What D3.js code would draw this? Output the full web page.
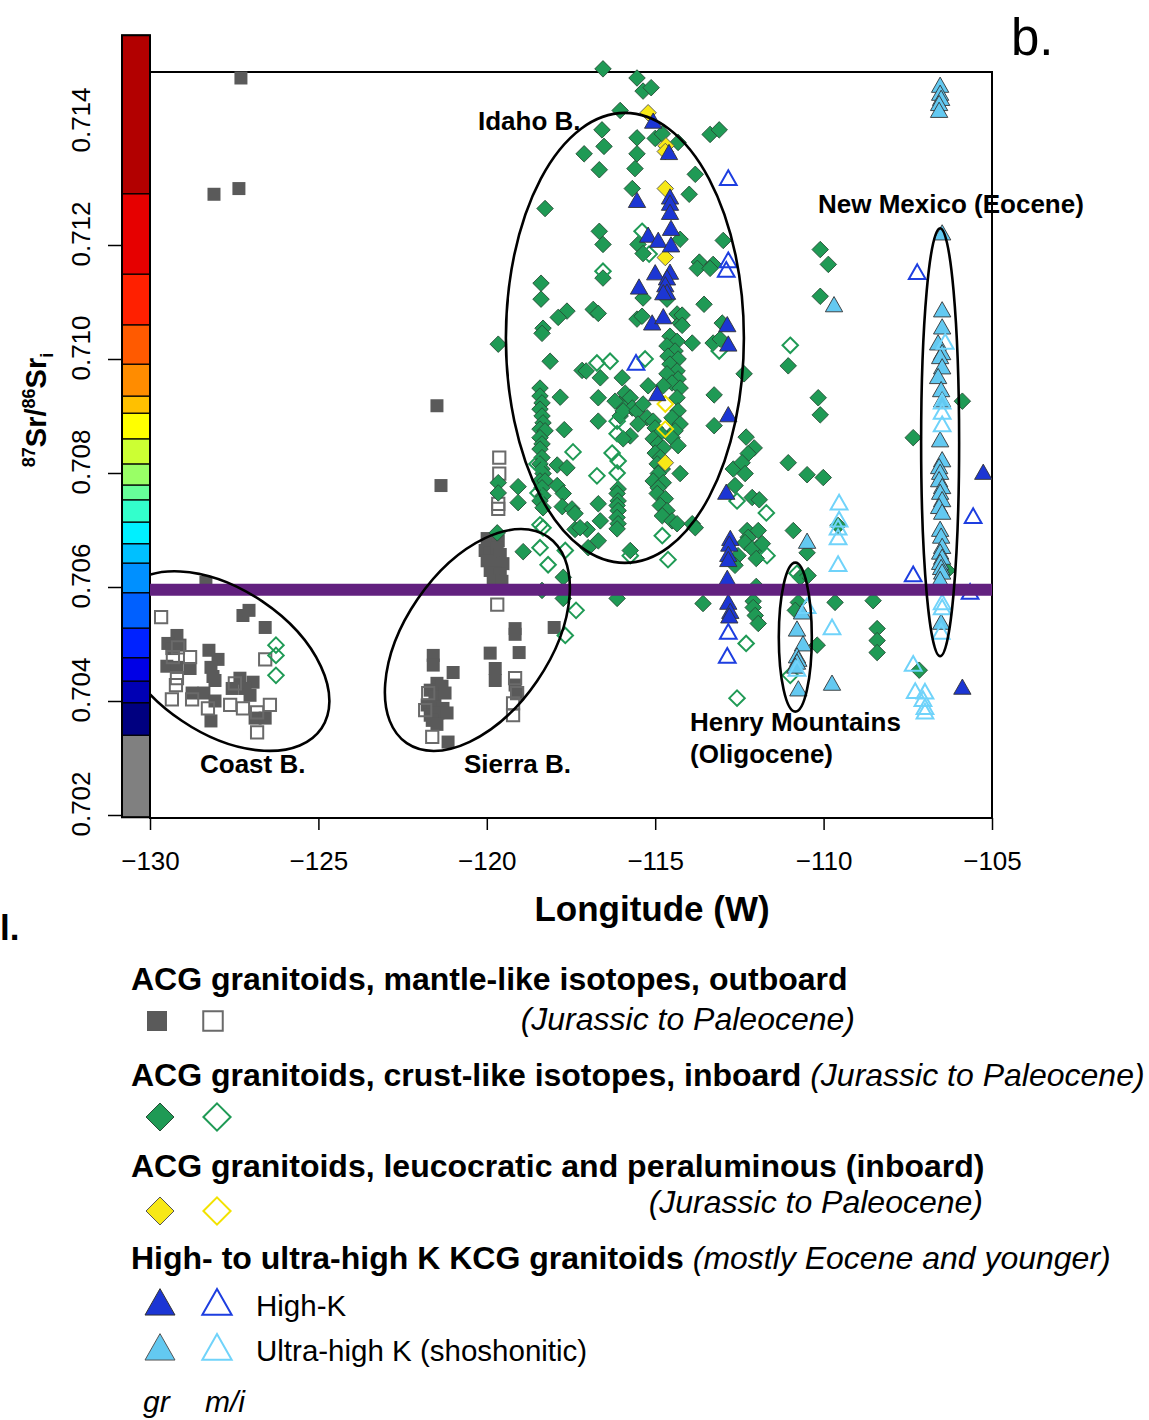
<!DOCTYPE html>
<html><head><meta charset="utf-8">
<script src="https://cdn.jsdelivr.net/npm/d3@7"></script>
<style>body{margin:0;background:#fff;} svg{display:block;font-family:"Liberation Sans",Arial,sans-serif;}</style>
</head><body><svg id="c" width="1149" height="1420"></svg>
<script>
// ---------- data ----------
const xTicks = [-130,-125,-120,-115,-110,-105];
const yTicks = [0.702,0.704,0.706,0.708,0.710,0.712,0.714];
const threshold = 0.70595;
const cbBreaks = [0.70196,0.70340,0.70397,0.70435,0.70476,0.70528,0.70590,0.70642,0.70676,0.70714,0.70753,0.70779,0.70816,0.70860,0.70905,0.70935,0.70991,0.71060,0.71149,0.71290,0.71568];
const cbColors = ["#808080","#000080","#0000b4","#0000e6","#0022ff","#0060ff","#0090ff","#00c0ff","#00f0ff","#33ffcc","#66ff99","#99ff66","#ccff33","#ffff00","#ffc000","#ff8c00","#ff5a00","#ff2000","#e60000","#b20000"];

const grayGr = [[-127.30,0.71493],[-128.10,0.71289],[-127.36,0.71299],[-121.48,0.70918],[-121.36,0.70778],
[-128.34,0.70608],[-127.24,0.7055],[-127.06,0.70559],[-126.58,0.70529],[-129.20,0.70515],[-129.47,0.70501],[-129.35,0.70492],[-129.11,0.70498],[-128.25,0.70489],[-127.98,0.70473],[-129.50,0.70461],[-129.20,0.70459],[-128.81,0.70457],[-128.19,0.70459],[-128.13,0.70443],[-128.07,0.70436],[-127.33,0.7044],[-126.94,0.70433],[-127.18,0.70422],[-127.03,0.7041],[-128.75,0.70414],[-128.40,0.70414],[-128.07,0.704],[-128.19,0.70365],[-126.88,0.7037],[-126.58,0.7037],[-127.56,0.70422],
[-119.99,0.70685],[-119.81,0.7068],[-119.66,0.70681],[-120.05,0.70664],[-119.90,0.70659],[-119.69,0.70669],[-119.60,0.70657],[-119.99,0.70646],[-119.81,0.70643],[-119.52,0.70641],[-119.90,0.70629],[-119.75,0.70625],[-119.60,0.70622],[-119.81,0.70611],[-119.55,0.7061],
[-119.16,0.70527],[-119.16,0.70517],[-118.00,0.70529],[-119.90,0.70484],[-119.04,0.70485],[-119.75,0.70457],[-119.75,0.70436],[-121.59,0.7048],[-121.59,0.70463],[-121.00,0.7045],[-121.48,0.70431],[-121.68,0.70419],[-121.33,0.70426],[-121.54,0.70407],[-121.24,0.70414],[-121.77,0.70393],[-121.59,0.70389],[-121.30,0.70387],[-121.68,0.70375],[-121.45,0.70379],[-121.18,0.70379],[-121.62,0.70366],[-121.48,0.70359],[-121.15,0.70328],[-119.16,0.70428],[-119.10,0.70415]];
const grayMi = [[-129.67,0.70547],[-129.17,0.70494],[-129.32,0.70477],[-128.81,0.70477],[-126.58,0.70473],[-129.20,0.7044],[-129.23,0.70428],[-129.35,0.70403],[-128.75,0.70403],[-128.28,0.70387],[-127.62,0.70393],[-127.24,0.70387],[-126.82,0.7038],[-126.44,0.70393],[-126.82,0.70345],[-127.48,0.70431],
[-119.63,0.70827],[-119.63,0.70799],[-119.66,0.70746],[-119.66,0.70737],[-119.69,0.70569],[-119.16,0.7044],[-119.10,0.70414],[-119.22,0.70396],[-119.22,0.70375],[-121.83,0.70384],[-121.74,0.70414],[-121.62,0.70337]];
const greenGr = [[-116.55,0.71509],[-115.54,0.71493],[-115.36,0.7147],[-115.12,0.71476],[-116.04,0.71436],[-116.58,0.71402],[-116.52,0.71373],[-117.11,0.7136],[-116.66,0.71332],[-115.54,0.71388],[-115.00,0.71387],[-114.79,0.71395],[-114.32,0.7138],[-115.54,0.7136],[-115.60,0.71334],[-113.81,0.71324],[-113.37,0.71394],[-113.10,0.71402],[-115.68,0.71299],[-113.99,0.71289],[-118.27,0.71264],
[-116.66,0.71224],[-116.55,0.71201],[-115.51,0.71201],[-115.36,0.71185],[-114.26,0.7121],[-112.98,0.71208],[-113.69,0.7117],[-113.75,0.71159],[-113.28,0.71166],[-113.37,0.71159],[-116.55,0.71142],[-118.39,0.71133],[-118.39,0.71105],[-115.36,0.71107],[-114.65,0.71105],[-113.55,0.71096],[-117.62,0.71084],[-117.88,0.71073],[-116.84,0.71087],[-116.69,0.7108],[-115.54,0.7107],[-115.39,0.71075],[-114.35,0.71079],[-114.26,0.71063],[-113.01,0.71063],[-118.33,0.71054],[-110.10,0.71192],[-109.86,0.71166],[-110.10,0.7111],
[-114.20,0.71077],[-114.20,0.71059],[-113.90,0.71028],[-113.28,0.71028],[-113.07,0.71035],[-111.05,0.70988],[-112.36,0.70974],[-113.25,0.70937],[-110.16,0.70932],[-110.10,0.70902],[-113.25,0.70883],[-112.30,0.70863],
[-118.36,0.71045],[-119.66,0.71026],[-118.12,0.70996],[-117.17,0.7098],[-117.05,0.70979],[-116.63,0.70967],
[-118.42,0.70949],[-118.42,0.70935],[-118.36,0.70923],[-118.42,0.70912],[-118.36,0.709],[-118.33,0.70888],[-118.42,0.70877],[-118.27,0.70874],[-118.42,0.70862],[-118.36,0.70851],[-118.42,0.70842],[-118.36,0.70827],[-118.42,0.70816],[-118.36,0.70807],[-118.33,0.70799],[-118.42,0.70786],[-118.27,0.70786],[-118.36,0.70774],[-118.33,0.7076],[-118.42,0.70751],[-118.33,0.70739],
[-117.82,0.70933],[-117.70,0.70876],[-116.69,0.70932],[-116.69,0.70891],[-117.91,0.70814],[-117.62,0.70809],[-117.91,0.70778],[-117.73,0.70764],[-119.07,0.70776],[-119.07,0.70748],[-119.66,0.70783],[-119.66,0.70765],[-117.76,0.70741],[-117.47,0.70737],[-117.38,0.70729],[-116.69,0.70746],[-116.63,0.70716],[-117.38,0.70701],[-117.02,0.70701],[-117.23,0.70704],[-116.69,0.70681],[-118.92,0.70662],[-119.69,0.70695],[-116.99,0.70669],[-117.73,0.70617],[-117.73,0.7058],
[-116.04,0.70921],[-116.04,0.709],
[-114.56,0.7104],[-114.35,0.71031],[-114.65,0.71023],[-114.41,0.71014],[-114.62,0.71005],[-114.32,0.71],[-114.56,0.70991],[-114.35,0.70979],[-114.65,0.70974],[-114.32,0.70965],[-114.50,0.70958],[-114.76,0.70953],[-114.26,0.70949],
[-115.98,0.70967],[-115.89,0.7094],[-115.74,0.70932],[-115.68,0.70914],[-115.95,0.70909],[-115.54,0.70909],[-115.36,0.70921],[-115.21,0.70953],[-115.24,0.70897],[-115.06,0.70891],[-116.19,0.70926],[-115.51,0.70886],[-115.74,0.70865],[-115.95,0.7086],
[-115.00,0.70879],[-114.85,0.7087],[-115.06,0.7086],[-114.91,0.70851],[-114.76,0.70844],[-115.00,0.70835],[-114.85,0.70827],[-114.94,0.70816],[-114.79,0.70807],[-114.91,0.70799],[-115.06,0.70786],[-114.76,0.70783],[-114.91,0.70774],[-114.94,0.70764],[-114.70,0.70755],[-114.85,0.70743],[-114.65,0.70734],[-114.79,0.70725],[-114.50,0.70716],[-114.35,0.70711],
[-114.35,0.70932],[-114.32,0.70909],[-114.50,0.70897],[-114.26,0.70886],[-114.41,0.70874],[-114.50,0.70862],[-114.32,0.70848],
[-116.10,0.70772],[-116.13,0.70764],[-116.10,0.70751],[-116.13,0.70743],[-116.10,0.70734],[-116.13,0.70722],[-116.10,0.70711],[-116.13,0.70702],[-115.74,0.70664],
[-112.06,0.70844],[-112.24,0.70834],[-112.68,0.70807],[-112.42,0.70818],[-112.33,0.70799],[-111.05,0.70818],[-110.49,0.70797],[-110.01,0.70792],[-112.63,0.70778],[-112.12,0.70757],[-111.91,0.70753],[-114.26,0.70799],[-113.90,0.70711],[-113.81,0.70704],[-112.27,0.70699],[-112.24,0.70687],[-111.94,0.70699],[-112.33,0.70678],[-111.97,0.70669],[-112.12,0.70667],[-111.82,0.70676],[-112.54,0.70655],[-112.00,0.7065],[-112.63,0.70638],[-110.90,0.70699],[-110.49,0.7066],[-110.69,0.70617],[-110.46,0.7062],[-112.00,0.70601],[-113.58,0.70571],[-112.09,0.70575],[-112.09,0.70564],[-112.03,0.7055],[-111.94,0.70536],[-110.75,0.70573],[-110.84,0.70559],[-110.19,0.70498],[-109.66,0.70573],[-108.53,0.70576],[-108.41,0.70527],[-108.41,0.70506],[-108.41,0.70485],[-105.88,0.70926],[-107.34,0.70862],[-106.33,0.70629],[-107.16,0.70454],[-109.57,0.70708],[-116.13,0.7058],[-118.36,0.70594]];
const greenMi = [[-116.55,0.71154],[-115.39,0.71224],[-115.18,0.71184],[-116.73,0.70993],[-116.34,0.70996],[-115.30,0.71],[-117.44,0.70837],[-116.28,0.70835],[-116.73,0.70795],[-118.42,0.70709],[-118.33,0.70704],[-117.67,0.70664],[-118.42,0.70669],[-118.18,0.70639],[-116.13,0.70891],[-116.13,0.70869],[-118.51,0.70816],[-118.48,0.70765],[-116.10,0.70821],[-116.13,0.708],[-114.79,0.7069],[-114.62,0.70648],[-115.74,0.70655],[-112.57,0.70751],[-110.99,0.71024],[-113.10,0.71014],[-111.70,0.7073],[-111.68,0.70655],[-112.30,0.70501],[-112.57,0.70405],[-110.99,0.70445],[-110.79,0.70624],[-117.35,0.70559],[-117.67,0.70515],[-126.26,0.70498],[-126.26,0.7048],[-126.26,0.70445]];
const yellowGr = [[-115.21,0.71432],[-114.68,0.71374],[-114.70,0.71364],[-114.70,0.71299],[-114.70,0.71178],[-114.70,0.70818]];
const yellowMi = [[-114.70,0.70921],[-114.70,0.70877]];
const highKGr = [[-115.06,0.71415],[-114.59,0.7136],[-115.54,0.71276],[-114.56,0.71282],[-114.56,0.71271],[-114.56,0.71255],[-114.53,0.71227],[-115.21,0.71215],[-114.91,0.71206],[-114.53,0.71198],[-114.56,0.7115],[-115.00,0.71149],[-114.65,0.7114],[-114.70,0.71128],[-114.65,0.71115],[-114.76,0.71114],[-115.48,0.71124],[-115.09,0.71061],[-114.76,0.71072],[-112.86,0.71058],[-112.83,0.71024],[-114.94,0.70937],[-112.83,0.709],[-112.89,0.70764],[-112.77,0.70683],[-112.80,0.70673],[-112.83,0.70655],[-112.83,0.70646],[-112.86,0.70613],[-112.83,0.70571],[-112.77,0.70555],[-112.80,0.70547],[-105.26,0.70799],[-105.88,0.70422]];
const highKMi = [[-112.83,0.71315],[-112.83,0.71171],[-112.89,0.71154],[-115.57,0.70991],[-112.83,0.70519],[-112.86,0.70477],[-107.22,0.7115],[-105.56,0.70722],[-107.34,0.7062],[-105.65,0.70589]];
const uhkGr = [[-106.54,0.71478],[-106.54,0.71464],[-106.51,0.71455],[-106.57,0.71446],[-106.57,0.71434],[-106.48,0.71219],[-106.48,0.71084],[-106.48,0.71054],[-106.60,0.71026],[-106.48,0.71009],[-106.54,0.71002],[-106.48,0.70984],[-106.60,0.70967],[-106.51,0.70944],[-106.48,0.70926],[-106.54,0.70856],[-106.48,0.70821],[-106.57,0.70809],[-106.54,0.70799],[-106.57,0.70786],[-106.48,0.70774],[-106.54,0.70764],[-106.48,0.70751],[-106.57,0.70739],[-106.48,0.70729],[-106.54,0.70699],[-106.51,0.70687],[-106.48,0.70669],[-106.54,0.70659],[-106.48,0.7065],[-106.54,0.70641],[-106.51,0.70632],[-106.48,0.70624],[-106.54,0.70611],[-106.51,0.70536],[-109.69,0.71093],[-110.49,0.70678],[-110.64,0.70554],[-110.79,0.70524],[-110.61,0.70498],[-110.79,0.70477],[-110.75,0.70471],[-110.79,0.70466],[-110.84,0.70459],[-110.75,0.70419],[-109.75,0.70429]];
const uhkMi = [[-106.39,0.71028],[-106.48,0.70923],[-106.48,0.70905],[-106.48,0.70883],[-106.48,0.70571],[-106.48,0.70562],[-106.51,0.70519],[-107.34,0.70463],[-107.28,0.70415],[-106.99,0.70414],[-107.05,0.70401],[-106.99,0.70387],[-106.99,0.70379],[-109.54,0.70746],[-109.54,0.70716],[-109.57,0.70702],[-109.57,0.70685],[-109.57,0.70638],[-109.75,0.70527],[-110.49,0.70564],[-110.79,0.70454]];

// ellipse centres (data units)
const ellCentres = [[-127.86,0.70470],[-120.28,0.70507],[-115.90,0.71037],[-110.84,0.70512],[-106.54,0.70854]];

// ---------- layout ----------
const svg = d3.select("#c");
const x = d3.scaleLinear().domain([-130,-105]).range([150,992]);
const y = d3.scaleLinear().domain([0.702,0.714]).range([815,131]);
const FONT = '"Liberation Sans",Arial,sans-serif';
const frameTop = 72, frameBottom = 818;

svg.append("defs").append("clipPath").attr("id","plotclip").append("rect")
  .attr("x",x(-130)).attr("y",frameTop).attr("width",x(-105)-x(-130)).attr("height",frameBottom-frameTop);

// custom symbols
const diamond = {draw(ctx,size){const r=Math.sqrt(size)/2;ctx.moveTo(0,-r);ctx.lineTo(r,0);ctx.lineTo(0,r);ctx.lineTo(-r,0);ctx.closePath();}};
const square = {draw(ctx,size){const r=Math.sqrt(size)/2;ctx.rect(-r,-r,2*r,2*r);}};
const tri = {draw(ctx,size){const w=Math.sqrt(size);const h=w*0.88;ctx.moveTo(0,-h*0.62);ctx.lineTo(w/2,h*0.38);ctx.lineTo(-w/2,h*0.38);ctx.closePath();}};

// colour bar
const cb = svg.append("g");
for (let i=0;i<cbColors.length;i++){
  cb.append("rect").attr("x",122).attr("width",28)
    .attr("y",y(cbBreaks[i+1])).attr("height",y(cbBreaks[i])-y(cbBreaks[i+1]))
    .attr("fill",cbColors[i]).attr("stroke","#000").attr("stroke-width",1.2);
}
cb.append("rect").attr("x",122).attr("width",28).attr("y",y(cbBreaks[cbBreaks.length-1]))
  .attr("height",y(cbBreaks[0])-y(cbBreaks[cbBreaks.length-1])).attr("fill","none").attr("stroke","#000").attr("stroke-width",2);

// y axis ticks + labels
const yAx = svg.append("g").attr("transform","translate(122,0)")
  .call(d3.axisLeft(y).tickValues(yTicks.filter(v=>v<0.7135)).tickSize(14).tickFormat(""));
yAx.select(".domain").remove();
yAx.selectAll("line").attr("stroke","#000").attr("stroke-width",1.5);
svg.append("g").selectAll("text").data(yTicks).join("text")
  .attr("transform",d=>`translate(90,${y(d)-11}) rotate(-90)`)
  .attr("text-anchor","middle").attr("font-size",26).attr("font-family",FONT)
  .text(d=>d3.format(".3f")(d));

// x axis
const xAx = svg.append("g").attr("transform",`translate(0,${frameBottom})`)
  .call(d3.axisBottom(x).tickValues(xTicks).tickSize(12).tickPadding(22).tickFormat(d=>"\u2212"+Math.abs(d)));
xAx.select(".domain").remove();
xAx.selectAll("line").attr("stroke","#000").attr("stroke-width",1.5);
xAx.selectAll("text").attr("font-size",26).attr("font-family",FONT).attr("fill","#000");

// frame
svg.append("rect").attr("x",x(-130)).attr("y",frameTop).attr("width",x(-105)-x(-130)).attr("height",frameBottom-frameTop)
  .attr("fill","none").attr("stroke","#000").attr("stroke-width",2);

// points
function drawPts(data,type,size,fill,stroke,sw){
  svg.append("g").selectAll("path").data(data).join("path")
    .attr("transform",d=>`translate(${x(d[0])},${y(d[1])})`)
    .attr("d",d3.symbol().type(type).size(size))
    .attr("fill",fill).attr("stroke",stroke).attr("stroke-width",sw);
}
const C = {gray:"#5a5a5a",grayO:"#6a6a6a",green:"#1f9a55",greenE:"#264d36",yellow:"#f7e817",yellowO:"#f2e200",hk:"#1c36d4",hkO:"#1d3ee0",uhk:"#63c9f1",uhkO:"#70d3fa"};
drawPts(grayGr,square,169,C.gray,"none",0);
drawPts(grayMi,square,150,"none",C.grayO,2);
drawPts(greenGr,diamond,272,C.green,C.greenE,0.9);
drawPts(greenMi,diamond,240,"none",C.green,2);
drawPts(yellowGr,diamond,272,C.yellow,"#555",0.9);
drawPts(yellowMi,diamond,240,"none",C.yellowO,2);
drawPts(highKGr,tri,300,C.hk,"#333",0.9);
drawPts(highKMi,tri,280,"none",C.hkO,2);
drawPts(uhkGr,tri,300,C.uhk,"#333",0.9);
drawPts(uhkMi,tri,280,"none",C.uhkO,2);

// threshold line
svg.append("line").attr("x1",x(-130)).attr("x2",x(-105)).attr("y1",y(threshold)).attr("y2",y(threshold))
  .attr("stroke","#62217f").attr("stroke-width",12);

// ellipses (rx, ry in px, rotation in deg), clipped to the plot region
const ellShape = [[120,72,34],[125,72.4,-55.6],[119,225,0],[16.5,74.5,0],[19,214,0]];
svg.append("g").attr("clip-path","url(#plotclip)").selectAll("ellipse").data(ellCentres).join("ellipse")
  .attr("transform",(d,i)=>`translate(${x(d[0])},${y(d[1])}) rotate(${ellShape[i][2]})`)
  .attr("rx",(d,i)=>ellShape[i][0]).attr("ry",(d,i)=>ellShape[i][1])
  .attr("fill","none").attr("stroke","#000").attr("stroke-width",2.6);

// annotation labels
const ann = [["Idaho B.",478,130],["New Mexico (Eocene)",818,213],["Henry Mountains",690,731],["(Oligocene)",690,763],["Coast B.",200,773],["Sierra B.",464,773]];
svg.append("g").selectAll("text").data(ann).join("text")
  .attr("x",d=>d[1]).attr("y",d=>d[2]).text(d=>d[0])
  .attr("font-size",26).attr("font-weight","bold").attr("font-family",FONT);

// titles
svg.append("text").attr("x",1011).attr("y",55).attr("font-size",51).attr("font-family",FONT).text("b.");
svg.append("text").attr("x",652).attr("y",921).attr("text-anchor","middle").attr("font-size",35).attr("font-weight","bold").attr("font-family",FONT).text("Longitude (W)");
svg.append("text").attr("x",0).attr("y",940).attr("font-size",35).attr("font-weight","bold").attr("font-family",FONT).text("l.");
const yt = svg.append("text").attr("transform","translate(46,410) rotate(-90)").attr("text-anchor","middle")
  .attr("font-size",29).attr("font-weight","bold").attr("font-family",FONT);
yt.append("tspan").attr("font-size",18).attr("dy",-11).text("87");
yt.append("tspan").attr("dy",11).text("Sr/");
yt.append("tspan").attr("font-size",18).attr("dy",-11).text("86");
yt.append("tspan").attr("dy",11).text("Sr");
yt.append("tspan").attr("font-size",18).attr("dy",7).text("i");

// legend
const L = svg.append("g").attr("font-family",FONT);
function head(yy, bold, ital){
  const t = L.append("text").attr("x",131).attr("y",yy).attr("font-size",32);
  t.append("tspan").attr("font-weight","bold").text(bold);
  if (ital) t.append("tspan").attr("font-style","italic").text(ital);
}
head(990,"ACG granitoids, mantle-like isotopes, outboard");
L.append("text").attr("x",855).attr("y",1030).attr("text-anchor","end").attr("font-size",32).attr("font-style","italic").text("(Jurassic to Paleocene)");
head(1086,"ACG granitoids, crust-like isotopes, inboard"," (Jurassic to Paleocene)");
head(1177,"ACG granitoids, leucocratic and peraluminous (inboard)");
L.append("text").attr("x",983).attr("y",1213).attr("text-anchor","end").attr("font-size",32).attr("font-style","italic").text("(Jurassic to Paleocene)");
head(1269,"High- to ultra-high K KCG granitoids"," (mostly Eocene and younger)");
function lsym(cx,cy,type,size,fill,stroke,sw){
  L.append("path").attr("transform",`translate(${cx},${cy})`).attr("d",d3.symbol().type(type).size(size))
   .attr("fill",fill).attr("stroke",stroke).attr("stroke-width",sw);
}
lsym(157,1021,square,400,C.gray,"none",0);
lsym(213,1021,square,380,"none",C.grayO,2);
lsym(160,1117,diamond,784,C.green,C.greenE,1);
lsym(217,1117,diamond,740,"none",C.green,2);
lsym(160,1211,diamond,784,C.yellow,"#555",1);
lsym(217,1211,diamond,740,"none",C.yellowO,2);
lsym(160,1305,tri,900,C.hk,"#333",1);
lsym(217,1305,tri,860,"none",C.hkO,2);
lsym(160,1350,tri,900,C.uhk,"#555",1);
lsym(217,1350,tri,860,"none",C.uhkO,2);
L.append("text").attr("x",256).attr("y",1316).attr("font-size",29.5).text("High-K");
L.append("text").attr("x",256).attr("y",1361).attr("font-size",29.5).text("Ultra-high K (shoshonitic)");
L.append("text").attr("x",143).attr("y",1412).attr("font-size",30).attr("font-style","italic").text("gr");
L.append("text").attr("x",205).attr("y",1412).attr("font-size",30).attr("font-style","italic").text("m/i");
</script></body></html>
